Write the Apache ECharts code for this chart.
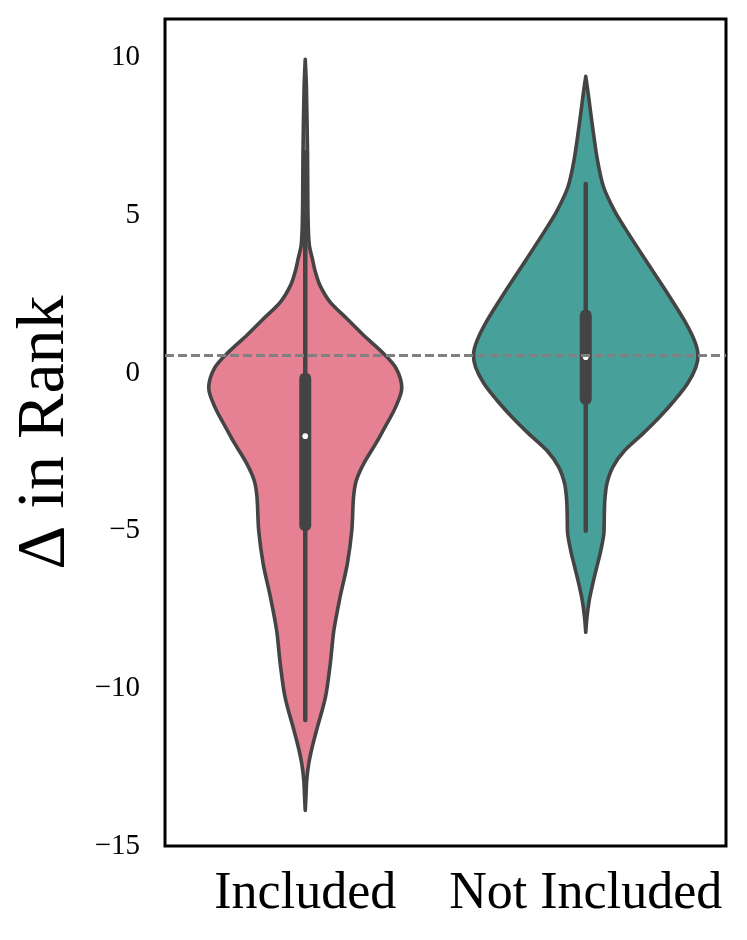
<!DOCTYPE html>
<html>
<head>
<meta charset="utf-8">
<script src="https://cdn.jsdelivr.net/npm/echarts@6/dist/echarts.min.js"></script>
<style>
  html, body { margin: 0; padding: 0; background: #fff; }
  #chart { width: 747px; height: 940px; }
</style>
</head>
<body>
<div id="chart"></div>
<script>
// categories
const categories = ["Included", "Not Included"];

// violin outline: y value and relative density (1 = widest violin)
const includedY = [9.95, 9.1, 7.0, 4.9, 4.06, 3.63, 3.21, 2.79, 2.26, 1.73, 1.2, 0.68, 0.15, -0.49, -1.12, -1.65, -2.2, -2.88, -3.41, -3.94, -4.99, -6.05, -7.11, -8.16, -9.22, -10.28, -11.34, -11.86, -12.39, -12.92, -13.45, -13.87];
const includedDensity = [0, 0.01, 0.02, 0.025, 0.036, 0.063, 0.09, 0.13, 0.22, 0.37, 0.52, 0.68, 0.81, 0.86, 0.8, 0.72, 0.635, 0.52, 0.455, 0.43, 0.415, 0.375, 0.31, 0.255, 0.223, 0.18, 0.1, 0.062, 0.031, 0.013, 0.006, 0];

const notIncludedY = [9.41, 8.86, 7.8, 6.74, 5.9, 5.16, 4.63, 3.57, 2.51, 1.67, 1.03, 0.6, 0.19, -0.34, -0.87, -1.4, -1.92, -2.45, -2.98, -3.51, -4.04, -4.57, -5.1, -5.63, -6.16, -6.68, -7.21, -7.74, -8.22];
const notIncludedDensity = [0, 0.022, 0.061, 0.105, 0.159, 0.254, 0.344, 0.536, 0.732, 0.879, 0.969, 1.0, 0.982, 0.906, 0.79, 0.656, 0.509, 0.348, 0.241, 0.188, 0.17, 0.165, 0.161, 0.134, 0.098, 0.0625, 0.031, 0.011, 0];

// inner box stats per category
const whiskerLow = [-11, -5];
const quartile1 = [-5, -1];
const medians = [-2, 0.5];
const quartile3 = [0, 2];
const whiskerHigh = [7, 6];

// horizontal reference line
const refValue = 0.55;

const violinY = [includedY, notIncludedY];
const violinDensity = [includedDensity, notIncludedDensity];
const fills = ["#e68093", "#47a099"];
const edge = "#444444";
const font = "'Liberation Serif', 'DejaVu Serif', serif";

const chart = echarts.init(document.getElementById("chart"), null, { renderer: "canvas" });

const renderViolin = (params, api) => {
  const idx = api.value(0);
  const ys = violinY[idx];
  const ds = violinDensity[idx];
  const band = api.size([1, 0])[0];
  const maxHalf = band * 0.4;
  const right = [];
  const left = [];
  for (let i = 0; i < ys.length; i++) {
    const p = api.coord([idx, ys[i]]);
    right.push([p[0] + ds[i] * maxHalf, p[1]]);
    left.unshift([p[0] - ds[i] * maxHalf, p[1]]);
  }
  return {
    type: "polygon",
    shape: { points: right.concat(left), smooth: 0.3 },
    style: { fill: fills[idx], stroke: edge, lineWidth: 3.6, lineJoin: "round" },
  };
};

const renderBox = (params, api) => {
  const idx = api.value(0);
  const lo = api.coord([idx, whiskerLow[idx]]);
  const hi = api.coord([idx, whiskerHigh[idx]]);
  const b1 = api.coord([idx, quartile1[idx]]);
  const b3 = api.coord([idx, quartile3[idx]]);
  const md = api.coord([idx, medians[idx]]);
  return {
    type: "group",
    children: [
      {
        type: "line",
        shape: { x1: lo[0], y1: lo[1], x2: hi[0], y2: hi[1] },
        style: { stroke: edge, lineWidth: 4.5, lineCap: "round" },
      },
      {
        type: "line",
        shape: { x1: b1[0], y1: b1[1] - 5.5, x2: b3[0], y2: b3[1] + 5.5 },
        style: { stroke: edge, lineWidth: 12, lineCap: "round" },
      },
      {
        type: "circle",
        shape: { cx: md[0], cy: md[1], r: 2.8 },
        style: { fill: "#ffffff" },
      },
    ],
  };
};

chart.setOption({
  animation: false,
  backgroundColor: "#ffffff",
  grid: {
    left: 165,
    right: 21,
    top: 19,
    bottom: 94,
    show: true,
    borderColor: "#000000",
    borderWidth: 3,
    backgroundColor: "transparent",
  },
  xAxis: {
    type: "category",
    data: categories,
    axisLine: { show: false },
    axisTick: { show: false },
    splitLine: { show: false },
    axisLabel: {
      interval: 0,
      hideOverlap: false,
      margin: 22,
      fontSize: 52,
      fontFamily: font,
      color: "#000000",
    },
  },
  yAxis: {
    type: "value",
    min: -15,
    max: 11.23,
    interval: 5,
    name: "\u0394 in Rank",
    nameLocation: "middle",
    nameGap: 86,
    nameTextStyle: { fontSize: 68, fontFamily: font, color: "#000000" },
    axisLine: { show: false },
    axisTick: { show: false },
    splitLine: { show: false },
    axisLabel: {
      margin: 25,
      fontSize: 29,
      fontFamily: font,
      color: "#000000",
      showMaxLabel: false,
      formatter: (v) => String(v).replace("-", "\u2212"),
    },
  },
  series: [
    {
      name: "violin",
      type: "custom",
      z: 2,
      silent: true,
      renderItem: renderViolin,
      data: [[0], [1]],
    },
    {
      name: "reference",
      type: "line",
      z: 3,
      data: [],
      markLine: {
        silent: true,
        symbol: ["none", "none"],
        label: { show: false },
        lineStyle: { color: "#808080", width: 2.8, type: [9, 4] },
        data: [{ yAxis: refValue }],
      },
    },
    {
      name: "box",
      type: "custom",
      z: 4,
      silent: true,
      renderItem: renderBox,
      data: [[0], [1]],
    },
  ],
});
</script>
</body>
</html>
